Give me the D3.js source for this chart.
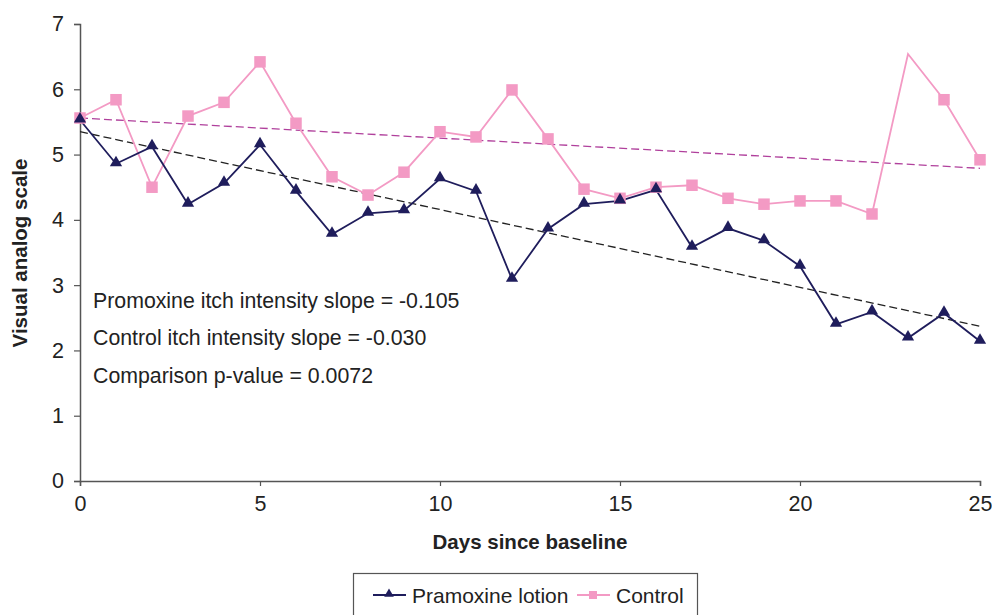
<!DOCTYPE html>
<html>
<head>
<meta charset="utf-8">
<script src="https://cdn.jsdelivr.net/npm/d3@7"></script>
<style>
  body { margin: 0; background: #fff; }
  svg { font-family: "Liberation Sans", Arial, sans-serif; }
</style>
</head>
<body>
<div id="chart"></div>
<script>
// values
const days = d3.range(0, 26);
const pramoxine = [5.53, 4.86, 5.12, 4.24, 4.56, 5.15, 4.44, 3.78, 4.10, 4.14,
                   4.63, 4.44, 3.09, 3.86, 4.24, 4.29, 4.46, 3.58, 3.87, 3.68,
                   3.29, 2.40, 2.59, 2.19, 2.57, 2.14];
const control = [5.56, 5.84, 4.50, 5.59, 5.80, 6.42, 5.48, 4.66, 4.38, 4.73,
                 5.35, 5.27, 5.99, 5.24, 4.47, 4.33, 4.50, 4.53, 4.33, 4.24,
                 4.29, 4.29, 4.09, 6.54, 5.84, 4.92];
// day 23 of control has no marker in the original
const controlNoMarker = [23];
const pramoxineTrend = [[0, 5.35], [25, 2.37]];
const controlTrend = [[0, 5.56], [25, 4.79]];
const xTicks = [0, 5, 10, 15, 20, 25];
const yTicks = [0, 1, 2, 3, 4, 5, 6, 7];
const notes = ["Promoxine itch intensity slope = -0.105",
               "Control itch intensity slope = -0.030",
               "Comparison p-value = 0.0072"];

const width = 992, height = 615;
const margin = {left: 80, right: 12, top: 24, bottom: 134};

const svg = d3.select("#chart").append("svg")
    .attr("width", width)
    .attr("height", height);

const x = d3.scaleLinear().domain([0, 25]).range([margin.left, width - margin.right]);
const y = d3.scaleLinear().domain([0, 7]).range([height - margin.bottom, margin.top]);

const navy = "#1f1d5c", pink = "#f39ac4";
const font = "Liberation Sans, Arial, sans-serif";

// axes
const xAxis = svg.append("g")
    .attr("transform", `translate(0,${y(0)})`)
    .call(d3.axisBottom(x).tickValues(xTicks).tickFormat(d3.format("d"))
        .tickSize(5).tickPadding(10));
const yAxis = svg.append("g")
    .attr("transform", `translate(${x(0)},0)`)
    .call(d3.axisLeft(y).tickValues(yTicks).tickFormat(d3.format("d"))
        .tickSize(6).tickPadding(10));

for (const ax of [xAxis, yAxis]) {
    ax.select(".domain").attr("stroke", "#555").attr("stroke-width", 1.5);
    ax.selectAll(".tick line").attr("stroke", "#555").attr("stroke-width", 1.2);
    ax.selectAll("text").attr("font-size", 21.5).attr("fill", "#222")
      .attr("font-family", font);
}

// axis titles
svg.append("text")
    .attr("x", 530).attr("y", 549)
    .attr("text-anchor", "middle")
    .attr("font-size", 20.5).attr("font-weight", "bold").attr("fill", "#222")
    .text("Days since baseline");
svg.append("text")
    .attr("transform", "translate(27,253) rotate(-90)")
    .attr("text-anchor", "middle")
    .attr("font-size", 20.5).attr("font-weight", "bold").attr("fill", "#222")
    .text("Visual analog scale");

// trend lines
const tline = d3.line().x(d => x(d[0])).y(d => y(d[1]));
svg.append("path").datum(controlTrend)
    .attr("d", tline).attr("fill", "none")
    .attr("stroke", "#b0409c").attr("stroke-width", 1.3)
    .attr("stroke-dasharray", "8,4");
svg.append("path").datum(pramoxineTrend)
    .attr("d", tline).attr("fill", "none")
    .attr("stroke", "#222").attr("stroke-width", 1.3)
    .attr("stroke-dasharray", "8,4");

// series lines
const line = d3.line().x((d, i) => x(days[i])).y(d => y(d));
svg.append("path").datum(control)
    .attr("d", line).attr("fill", "none")
    .attr("stroke", pink).attr("stroke-width", 1.8);
svg.append("path").datum(pramoxine)
    .attr("d", line).attr("fill", "none")
    .attr("stroke", navy).attr("stroke-width", 1.8);

// markers
const sq = 11.5;
svg.append("g").selectAll("rect")
    .data(control.map((v, i) => [days[i], v]).filter(d => !controlNoMarker.includes(d[0])))
    .join("rect")
    .attr("x", d => x(d[0]) - sq / 2)
    .attr("y", d => y(d[1]) - sq / 2)
    .attr("width", sq).attr("height", sq)
    .attr("fill", pink);

const tri = d3.symbol().type(d3.symbolTriangle).size(65);
svg.append("g").selectAll("path")
    .data(pramoxine.map((v, i) => [days[i], v]))
    .join("path")
    .attr("d", tri)
    .attr("transform", d => `translate(${x(d[0])},${y(d[1]) - 1})`)
    .attr("fill", navy);

// annotations
svg.append("g").selectAll("text")
    .data(notes)
    .join("text")
    .attr("x", 93)
    .attr("y", (d, i) => [308, 345, 383][i])
    .attr("font-size", 21.3).attr("fill", "#222")
    .text(d => d);

// legend
const lg = svg.append("g");
lg.append("rect")
    .attr("x", 353.5).attr("y", 573.5)
    .attr("width", 344).attr("height", 50)
    .attr("fill", "#fff").attr("stroke", "#555").attr("stroke-width", 1.2);
const items = [
    {label: "Pramoxine lotion", color: navy, kind: "tri", x: 373},
    {label: "Control", color: pink, kind: "sq", x: 577}
];
const ly = 595;
for (const it of items) {
    lg.append("line")
        .attr("x1", it.x).attr("x2", it.x + 33)
        .attr("y1", ly).attr("y2", ly)
        .attr("stroke", it.color).attr("stroke-width", 1.8);
    if (it.kind === "tri") {
        lg.append("path")
            .attr("d", d3.symbol().type(d3.symbolTriangle).size(40))
            .attr("transform", `translate(${it.x + 16},${ly - 1})`)
            .attr("fill", it.color);
    } else {
        lg.append("rect")
            .attr("x", it.x + 12).attr("y", ly - 4)
            .attr("width", 8).attr("height", 8)
            .attr("fill", it.color);
    }
    lg.append("text")
        .attr("x", it.x + 39).attr("y", ly + 8)
        .attr("font-size", 21).attr("fill", "#222")
        .text(it.label);
}
</script>
</body>
</html>
